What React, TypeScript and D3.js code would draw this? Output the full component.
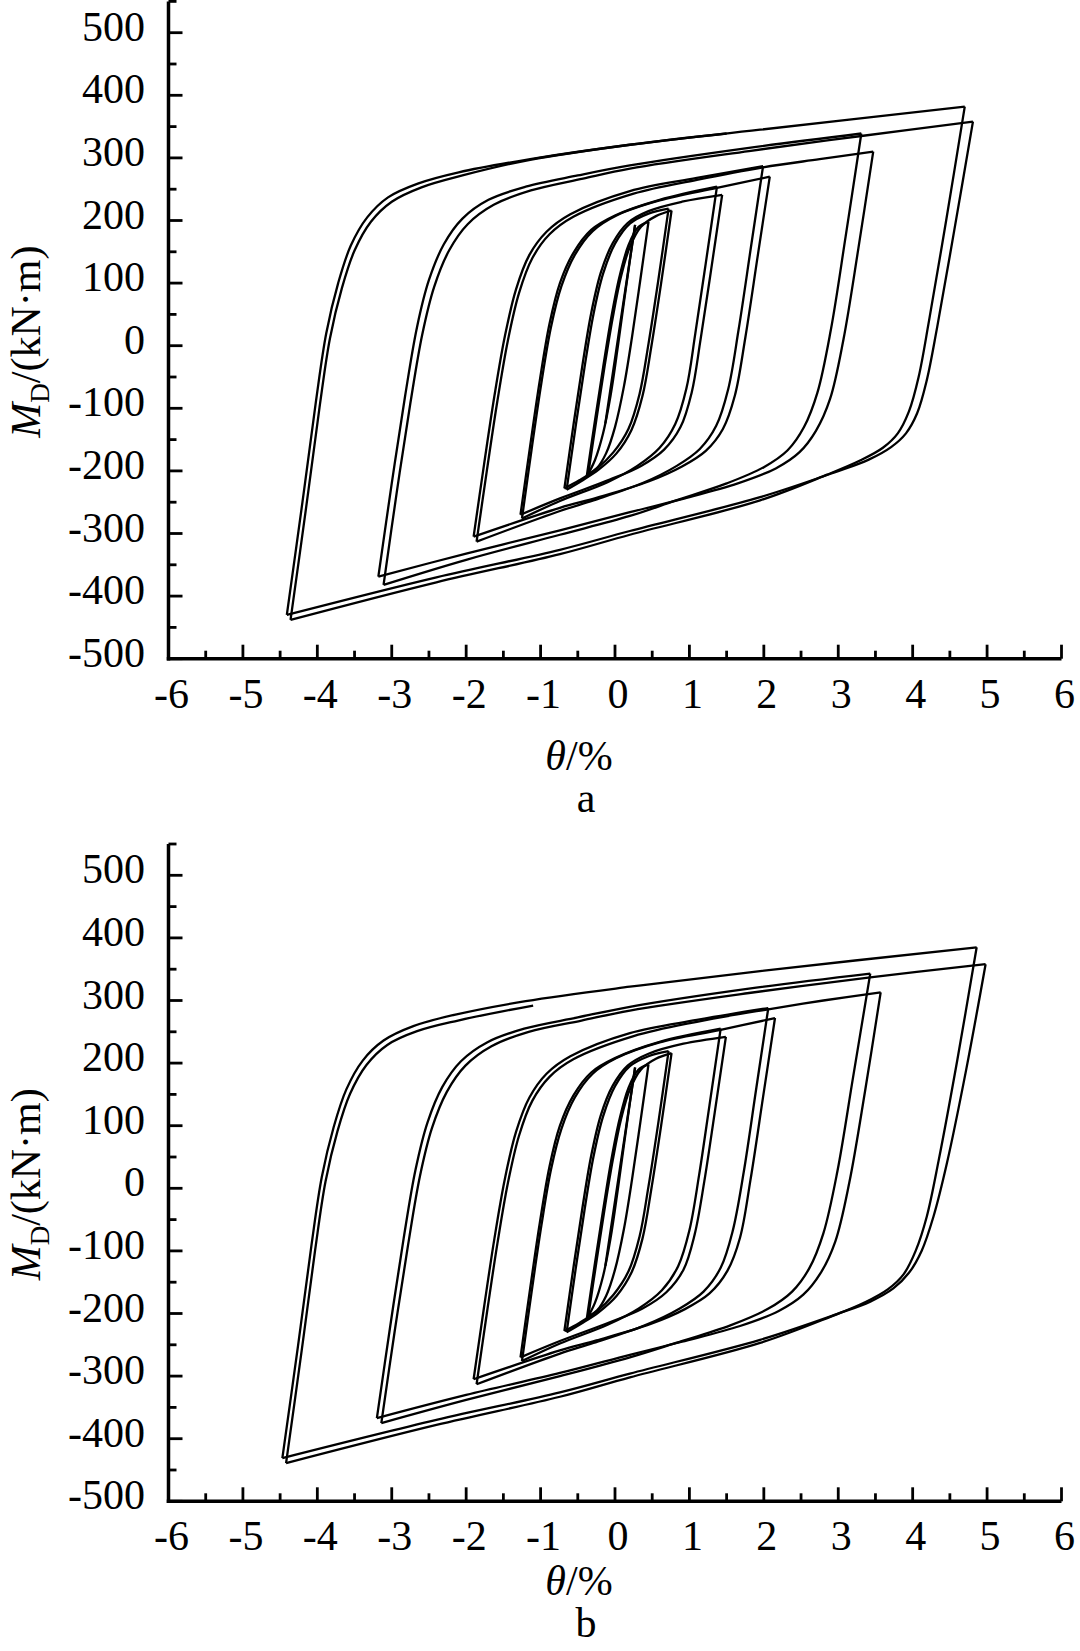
import React from 'react';
import * as d3 from 'd3';

type Pt = [number, number];

// ---------- axis ticks ----------
const xTicks = [-6, -5, -4, -3, -2, -1, 0, 1, 2, 3, 4, 5, 6];
const yTicks = [-500, -400, -300, -200, -100, 0, 100, 200, 300, 400, 500];
const xMinor = [-5.5, -4.5, -3.5, -2.5, -1.5, -0.5, 0.5, 1.5, 2.5, 3.5, 4.5, 5.5];
const yMinor = [-450, -350, -250, -150, -50, 50, 150, 250, 350, 450, 550];

// ---------- chart a : branches (theta %, M kN·m) ----------
const aStart: Pt[][] = [
  [[-0.13, -124], [0.07, 35], [0.27, 193]],
];
const aLoopA: Pt[][] = [
  [[0.27, 193], [0.15, 95], [0.04, 0], [-0.06, -80], [-0.16, -140], [-0.27, -183], [-0.38, -209]],
  [[-0.38, -209], [-0.27, -120], [-0.16, -35], [-0.05, 45], [0.06, 110], [0.18, 160], [0.31, 189], [0.45, 198]],
  [[0.45, 198], [0.34, 105], [0.23, 15], [0.12, -65], [0.0, -130], [-0.12, -172], [-0.24, -195], [-0.36, -205]],
  [[-0.36, -205], [-0.25, -118], [-0.14, -33], [-0.03, 45], [0.08, 110], [0.2, 158], [0.35, 190], [0.55, 207], [0.76, 216]],
];
const aLoopB: Pt[][] = [
  [[0.76, 216], [0.62, 100], [0.49, 0], [0.37, -80], [0.22, -135], [0.02, -172], [-0.22, -198], [-0.45, -216], [-0.65, -230]],
  [[-0.65, -230], [-0.53, -130], [-0.41, -35], [-0.29, 50], [-0.16, 115], [0.0, 163], [0.2, 195], [0.45, 211], [0.72, 219]],
  [[0.72, 219], [0.58, 103], [0.45, 3], [0.33, -77], [0.18, -133], [-0.02, -170], [-0.25, -197], [-0.48, -215], [-0.68, -228]],
  [[-0.68, -228], [-0.56, -128], [-0.44, -33], [-0.32, 52], [-0.19, 117], [-0.03, 164], [0.17, 196], [0.45, 215], [0.9, 230], [1.44, 241]],
];
const aLoopC: Pt[][] = [
  [[1.44, 241], [1.29, 120], [1.15, 10], [1.03, -75], [0.88, -130], [0.66, -166], [0.35, -192], [-0.07, -214], [-0.74, -244], [-1.27, -270]],
  [[-1.27, -270], [-1.14, -160], [-1.01, -55], [-0.88, 35], [-0.74, 100], [-0.56, 148], [-0.32, 185], [0.0, 208], [0.6, 233], [1.37, 254]],
  [[1.37, 254], [1.22, 132], [1.08, 20], [0.96, -68], [0.81, -125], [0.6, -163], [0.3, -192], [-0.1, -218], [-0.74, -248], [-1.25, -276]],
  [[-1.25, -276], [-1.12, -165], [-0.99, -60], [-0.86, 30], [-0.72, 95], [-0.54, 145], [-0.3, 183], [0.02, 208], [0.6, 232], [1.37, 252], [2.08, 270]],
];
const aLoopD: Pt[][] = [
  [[2.08, 270], [1.92, 145], [1.75, 12], [1.61, -80], [1.45, -133], [1.22, -168], [0.9, -193], [0.45, -217], [-0.25, -243], [-0.74, -259], [-1.9, -305]],
  [[-1.9, -305], [-1.76, -190], [-1.62, -80], [-1.48, 15], [-1.33, 90], [-1.15, 145], [-0.92, 182], [-0.6, 210], [0.2, 247], [1.1, 268], [1.99, 287]],
  [[1.99, 287], [1.83, 160], [1.66, 25], [1.52, -70], [1.36, -128], [1.14, -165], [0.83, -192], [0.38, -219], [-0.29, -247], [-0.74, -264], [-1.86, -313]],
  [[-1.86, -313], [-1.72, -198], [-1.58, -88], [-1.44, 8], [-1.29, 84], [-1.11, 140], [-0.88, 178], [-0.56, 206], [0.25, 243], [1.1, 265], [1.99, 285], [2.75, 298], [3.47, 310]],
];
const aLoopE: Pt[][] = [
  [[3.47, 310], [3.27, 155], [3.07, 10], [2.89, -85], [2.7, -136], [2.48, -170], [2.16, -196], [1.65, -220], [0.9, -245], [0.2, -266], [-0.74, -295], [-2.0, -332], [-3.18, -369]],
  [[-3.18, -369], [-3.0, -220], [-2.82, -80], [-2.66, 30], [-2.5, 105], [-2.3, 162], [-2.05, 203], [-1.7, 233], [-1.2, 254], [-0.5, 272], [0.2, 288], [1.8, 316], [3.31, 339]],
  [[3.31, 339], [3.1, 175], [2.9, 25], [2.72, -75], [2.54, -130], [2.32, -167], [2.0, -194], [1.5, -220], [0.8, -248], [0.2, -272], [-0.74, -302], [-2.0, -342], [-3.11, -382]],
  [[-3.11, -382], [-2.93, -232], [-2.75, -92], [-2.59, 18], [-2.43, 94], [-2.23, 152], [-1.98, 194], [-1.63, 225], [-1.13, 248], [-0.43, 267], [0.2, 283], [1.8, 311], [3.31, 335], [4.81, 358]],
];
const aLoopF: Pt[][] = [
  [[4.81, 358], [4.56, 185], [4.33, 30], [4.19, -55], [4.06, -108], [3.91, -140], [3.71, -162], [3.41, -182], [2.96, -202], [1.95, -242], [0.2, -296], [-0.74, -326], [-2.4, -370], [-4.41, -430]],
  [[-4.41, -430], [-4.2, -250], [-4.02, -90], [-3.88, 20], [-3.72, 100], [-3.55, 160], [-3.33, 205], [-3.05, 237], [-2.65, 259], [-2.1, 277], [-1.14, 298], [0.2, 321], [1.95, 345], [4.7, 382]],
  [[4.7, 382], [4.45, 200], [4.22, 40], [4.08, -50], [3.95, -105], [3.8, -140], [3.6, -163], [3.3, -183], [2.85, -206], [1.95, -247], [0.2, -302], [-0.74, -333], [-2.4, -378], [-4.36, -438]],
  [[-4.36, -438], [-4.15, -258], [-3.97, -98], [-3.83, 12], [-3.67, 92], [-3.5, 152], [-3.28, 198], [-3.0, 230], [-2.6, 253], [-2.05, 272], [-1.14, 297], [0.2, 321], [1.5, 339]],
];

// ---------- chart b ----------
const bLoopB: Pt[][] = [
  [[0.76, 216], [0.62, 100], [0.49, 0], [0.37, -80], [0.22, -135], [0.02, -172], [-0.22, -198], [-0.45, -216], [-0.65, -230]],
  [[-0.65, -230], [-0.53, -130], [-0.41, -35], [-0.29, 50], [-0.16, 115], [0.0, 163], [0.2, 195], [0.45, 211], [0.72, 219]],
  [[0.72, 219], [0.58, 103], [0.45, 3], [0.33, -77], [0.18, -133], [-0.02, -170], [-0.25, -197], [-0.48, -215], [-0.68, -228]],
  [[-0.68, -228], [-0.56, -128], [-0.44, -33], [-0.32, 52], [-0.19, 117], [-0.03, 164], [0.17, 196], [0.45, 215], [0.92, 231], [1.49, 242]],
];
const bLoopC: Pt[][] = [
  [[1.49, 242], [1.34, 121], [1.2, 11], [1.07, -74], [0.92, -130], [0.69, -166], [0.37, -192], [-0.07, -214], [-0.74, -244], [-1.27, -270]],
  [[-1.27, -270], [-1.14, -160], [-1.01, -55], [-0.88, 35], [-0.74, 100], [-0.56, 148], [-0.32, 185], [0.0, 208], [0.6, 234], [1.42, 255]],
  [[1.42, 255], [1.27, 133], [1.13, 21], [1.0, -67], [0.85, -124], [0.63, -163], [0.32, -192], [-0.1, -218], [-0.74, -248], [-1.25, -276]],
  [[-1.25, -276], [-1.12, -165], [-0.99, -60], [-0.86, 30], [-0.72, 95], [-0.54, 145], [-0.3, 183], [0.02, 208], [0.6, 233], [1.42, 253], [2.15, 272]],
];
const bLoopD: Pt[][] = [
  [[2.15, 272], [1.99, 146], [1.82, 13], [1.68, -79], [1.51, -132], [1.27, -168], [0.94, -193], [0.47, -217], [-0.25, -243], [-0.74, -259], [-1.9, -305]],
  [[-1.9, -305], [-1.76, -190], [-1.62, -80], [-1.48, 15], [-1.33, 90], [-1.15, 145], [-0.92, 183], [-0.6, 211], [0.2, 248], [1.1, 269], [2.06, 288]],
  [[2.06, 288], [1.9, 161], [1.73, 26], [1.58, -69], [1.42, -127], [1.19, -165], [0.87, -192], [0.4, -219], [-0.29, -247], [-0.74, -264], [-1.86, -313]],
  [[-1.86, -313], [-1.72, -198], [-1.58, -88], [-1.44, 8], [-1.29, 84], [-1.11, 140], [-0.88, 178], [-0.56, 206], [0.25, 243], [1.1, 266], [2.06, 286], [2.8, 300], [3.57, 313]],
];
const bLoopE: Pt[][] = [
  [[3.57, 313], [3.36, 155], [3.15, 10], [2.96, -85], [2.76, -136], [2.53, -170], [2.2, -196], [1.68, -220], [0.9, -245], [0.2, -266], [-0.74, -295], [-2.0, -330], [-3.2, -367]],
  [[-3.2, -367], [-3.02, -220], [-2.84, -80], [-2.68, 30], [-2.52, 105], [-2.32, 162], [-2.07, 203], [-1.72, 233], [-1.22, 255], [-0.5, 273], [0.2, 290], [1.8, 319], [3.43, 343]],
  [[3.43, 343], [3.2, 178], [2.99, 28], [2.8, -72], [2.61, -128], [2.38, -165], [2.05, -193], [1.55, -219], [0.82, -247], [0.2, -270], [-0.74, -300], [-2.0, -338], [-3.14, -375]],
  [[-3.14, -375], [-2.96, -228], [-2.78, -90], [-2.62, 20], [-2.46, 96], [-2.26, 154], [-2.01, 196], [-1.66, 227], [-1.16, 250], [-0.45, 268], [0.2, 284], [1.8, 312], [3.43, 337], [4.98, 358]],
];
const bLoopF: Pt[][] = [
  [[4.98, 358], [4.72, 190], [4.46, 40], [4.28, -45], [4.12, -100], [3.95, -135], [3.74, -160], [3.43, -181], [2.98, -201], [1.95, -242], [0.2, -296], [-0.74, -326], [-2.4, -370], [-4.47, -431]],
  [[-4.47, -431], [-4.26, -252], [-4.08, -92], [-3.94, 18], [-3.78, 98], [-3.61, 158], [-3.39, 204], [-3.11, 236], [-2.71, 259], [-2.16, 277], [-1.2, 299], [0.2, 322], [1.95, 347], [4.86, 385]],
  [[4.86, 385], [4.6, 205], [4.35, 45], [4.19, -45], [4.04, -100], [3.88, -137], [3.67, -161], [3.36, -182], [2.9, -205], [1.95, -247], [0.2, -302], [-0.74, -333], [-2.4, -378], [-4.42, -439]],
  [[-4.42, -439], [-4.21, -259], [-4.03, -99], [-3.89, 11], [-3.73, 91], [-3.56, 151], [-3.34, 197], [-3.06, 229], [-2.66, 251], [-2.11, 268], [-1.1, 292]],
];

const aBranches = [...aStart, ...aLoopA, ...aLoopB, ...aLoopC, ...aLoopD, ...aLoopE, ...aLoopF];
const bBranches = [...aStart, ...aLoopA, ...bLoopB, ...bLoopC, ...bLoopD, ...bLoopE, ...bLoopF];

const FONT = '"Liberation Serif", "Times New Roman", serif';
const X0 = 168.5;
const X1 = 1061.5;

type PanelProps = {
  yZero: number;
  branches: Pt[][];
  tickBase: number;
  titleBase: number;
  letter: string;
  letterBase: number;
};

function Panel({ yZero, branches, tickBase, titleBase, letter, letterBase }: PanelProps) {
  const x = d3.scaleLinear().domain([-6, 6]).range([X0, X1]);
  const y = d3.scaleLinear().domain([0, 100]).range([yZero, yZero - 62.6]);
  const yb = y(-500);
  const yt = y(550);
  const line = d3
    .line<Pt>()
    .x((d) => x(d[0]))
    .y((d) => y(d[1]))
    .curve(d3.curveCatmullRom.alpha(0.5));
  return (
    <g>
      {branches.map((b, i) => (
        <path key={i} d={line(b) || ''} fill="none" stroke="#000" strokeWidth={2.3} strokeLinejoin="miter" />
      ))}
      <line x1={X0} x2={X0} y1={yt} y2={yb + 1.75} stroke="#000" strokeWidth={3.5} />
      <line x1={X0 - 1.75} x2={X1} y1={yb} y2={yb} stroke="#000" strokeWidth={3.5} />
      {yTicks.map((t) => (
        <g key={'yt' + t}>
          <line x1={X0} x2={X0 + 14} y1={y(t)} y2={y(t)} stroke="#000" strokeWidth={2.8} />
          <text x={145} y={y(t) + 8} textAnchor="end" fontFamily={FONT} fontSize={42}>
            {t}
          </text>
        </g>
      ))}
      {yMinor.map((t) => (
        <line key={'ym' + t} x1={X0} x2={X0 + 8} y1={y(t)} y2={y(t)} stroke="#000" strokeWidth={2.8} />
      ))}
      {xTicks.map((t) => (
        <g key={'xt' + t}>
          <line x1={x(t)} x2={x(t)} y1={yb} y2={yb - 14} stroke="#000" strokeWidth={2.8} />
          <text x={x(t) + 3} y={tickBase} textAnchor="middle" fontFamily={FONT} fontSize={42}>
            {t}
          </text>
        </g>
      ))}
      {xMinor.map((t) => (
        <line key={'xm' + t} x1={x(t)} x2={x(t)} y1={yb} y2={yb - 8} stroke="#000" strokeWidth={2.8} />
      ))}
      <text
        transform={`translate(40,${yZero - 4}) rotate(-90)`}
        textAnchor="middle"
        fontFamily={FONT}
        fontSize={42}
      >
        <tspan fontStyle="italic">M</tspan>
        <tspan fontSize={27} dy={9}>
          D
        </tspan>
        <tspan dy={-9}>/(kN·m)</tspan>
      </text>
      <text x={579} y={titleBase} textAnchor="middle" fontFamily={FONT} fontSize={42}>
        <tspan fontStyle="italic">θ</tspan>/%
      </text>
      <text x={586} y={letterBase} textAnchor="middle" fontFamily={FONT} fontSize={42}>
        {letter}
      </text>
    </g>
  );
}

export default function App() {
  return (
    <div style={{ position: 'absolute', left: 0, top: 0, width: 1080, height: 1651, background: '#fff' }}>
      <svg width={1080} height={1651} viewBox="0 0 1080 1651">
        <rect width={1080} height={1651} fill="#fff" />
        <Panel yZero={345.7} branches={aBranches} tickBase={708} titleBase={770} letter="a" letterBase={812} />
        <Panel yZero={1188.3} branches={bBranches} tickBase={1550} titleBase={1595} letter="b" letterBase={1637} />
      </svg>
    </div>
  );
}
